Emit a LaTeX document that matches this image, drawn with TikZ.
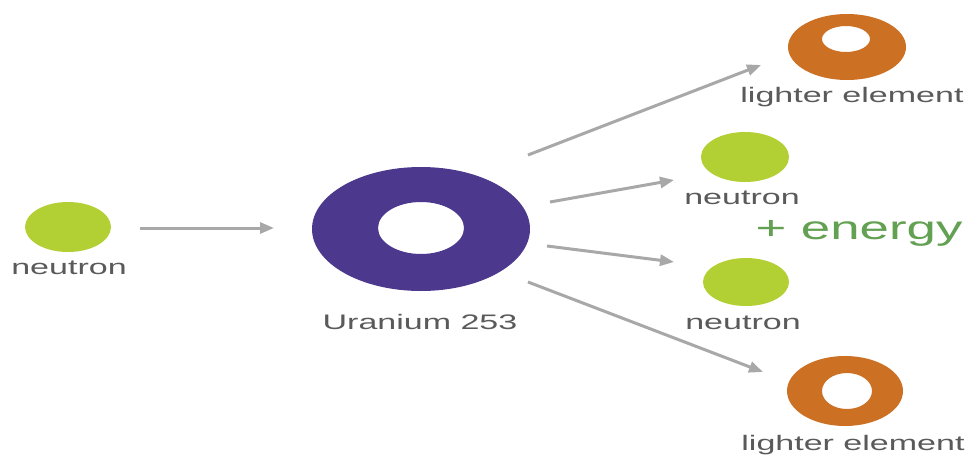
\documentclass[tikz,border=0pt]{standalone}
\usepackage{fontspec}
\setmainfont{Liberation Sans}
\usetikzlibrary{arrows.meta,shapes.geometric}
\definecolor{lime}{RGB}{178,208,52}
\definecolor{uran}{RGB}{76,56,140}
\definecolor{orng}{RGB}{204,112,36}
\definecolor{arrgray}{RGB}{168,168,168}
\definecolor{txtgray}{RGB}{90,90,90}
\definecolor{engreen}{RGB}{98,160,82}
\newcommand\wideTxt[1]{\scalebox{1.62}[1]{#1}}
\tikzset{
  lbl/.style={text=txtgray, font=\fontsize{21}{23}\selectfont, inner sep=0pt},
  neutronball/.style={ellipse, fill=lime, draw=none, inner sep=0pt},
  flow/.style={draw=arrgray, line width=3pt, -{Triangle[length=14pt,width=11pt]}},
}
\begin{document}
\begin{tikzpicture}[x=1pt,y=-1pt]
\useasboundingbox (0,0) rectangle (969,458);
\fill[white] (0,0) rectangle (969,458);
% particles
\node[neutronball, minimum width=86pt, minimum height=50pt] (n0) at (68,227) {};
\node[lbl] (n0l) at (69,268) {\wideTxt{neutron}};
\fill[uran, even odd rule] (421,229) ellipse [x radius=109, y radius=62]
  (421,228) ellipse [x radius=43, y radius=26];
\node[inner sep=0pt, minimum width=218pt, minimum height=124pt, ellipse] (u) at (421,229) {};
\node[lbl] (ul) at (420,322) {\wideTxt{Uranium 253}};
\fill[orng, even odd rule] (847,47) ellipse [x radius=59, y radius=33]
  (846,39) ellipse [x radius=24, y radius=13];
\node[inner sep=0pt, minimum width=118pt, minimum height=66pt, ellipse] (l1) at (847,47) {};
\node[lbl] (l1l) at (852,97) {\wideTxt{lighter element}};
\node[neutronball, minimum width=88pt, minimum height=50pt] (n1) at (745,157) {};
\node[lbl] (n1l) at (742,198) {\wideTxt{neutron}};
\node[neutronball, minimum width=86pt, minimum height=48pt] (n2) at (746,282) {};
\node[lbl] (n2l) at (743,323) {\wideTxt{neutron}};
\fill[orng, even odd rule] (845,391) ellipse [x radius=58, y radius=35]
  (847,391) ellipse [x radius=25, y radius=18];
\node[inner sep=0pt, minimum width=116pt, minimum height=70pt, ellipse] (l2) at (845,391) {};
\node[lbl] (l2l) at (853,445) {\wideTxt{lighter element}};
\node[text=engreen, font=\fontsize{33}{36}\selectfont, inner sep=0pt] (en) at (859,233) {\scalebox{1.6}[1]{+ energy}};
% arrow ends
\coordinate (a0s) at (140,228); \coordinate (a0e) at (274,228);
\coordinate (a1s) at (528,155); \coordinate (a1e) at (761,65);
\coordinate (a2s) at (550,202); \coordinate (a2e) at (674,180);
\coordinate (a3s) at (547,246); \coordinate (a3e) at (674,262);
\coordinate (a4s) at (528,282); \coordinate (a4e) at (763,372);
\draw[flow] (a0s) -- (a0e);
\draw[flow] (a1s) -- (a1e);
\draw[flow] (a2s) -- (a2e);
\draw[flow] (a3s) -- (a3e);
\draw[flow] (a4s) -- (a4e);
\end{tikzpicture}
\end{document}
